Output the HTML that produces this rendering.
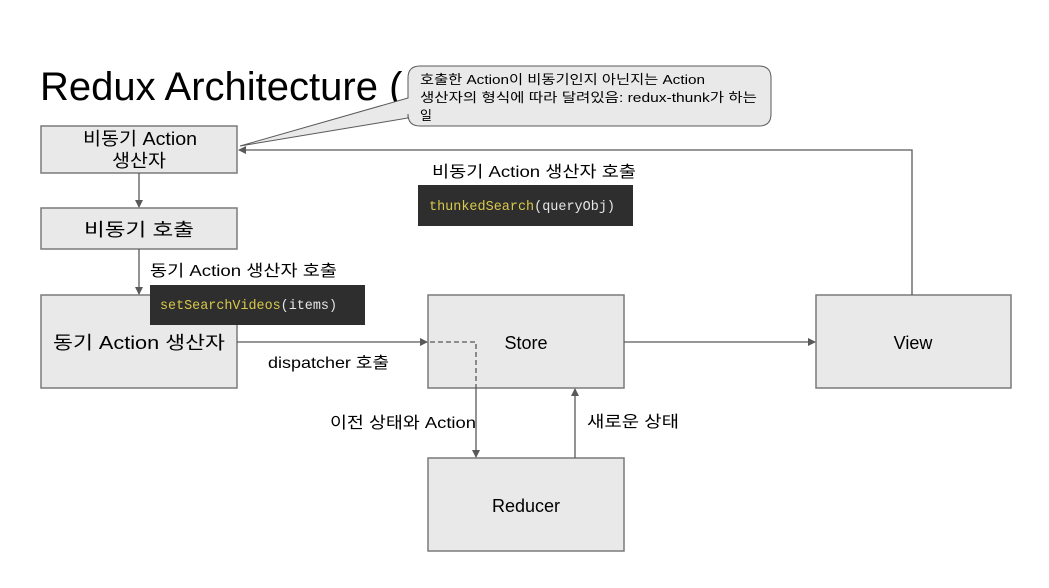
<!DOCTYPE html>
<html><head><meta charset="utf-8"><style>
body{margin:0;background:#fff;}
svg text{font-family:"Liberation Sans","Noto Sans CJK KR",sans-serif;}
.m{font-family:"Liberation Mono","DejaVu Sans Mono",monospace !important;}
</style></head><body>
<svg width="1049" height="583" viewBox="0 0 1049 583" xmlns="http://www.w3.org/2000/svg">
<defs><marker id="a" markerWidth="8" markerHeight="8" refX="7" refY="4" orient="auto" markerUnits="userSpaceOnUse"><path d="M0,0 L8,4 L0,8 z" fill="#595959"/></marker></defs>
<rect width="1049" height="583" fill="#fff"/>
<text x="40" y="100" font-size="40" fill="#000">Redux Architecture (</text>
<g fill="#e9e9e9" stroke="#7a7a7a" stroke-width="1.5">
<rect x="41" y="126" width="196" height="47"/>
<rect x="41" y="208" width="196" height="41"/>
<rect x="41" y="295" width="196" height="93"/>
<rect x="428" y="295" width="196" height="93"/>
<rect x="816" y="295" width="195" height="93"/>
<rect x="428" y="458" width="196" height="93"/>
</g>
<path d="M420,66 H759 Q771,66 771,78 V114 Q771,126 759,126 H420 Q408,126 408,114 V118 L240,146 L408,98 V78 Q408,66 420,66 Z" fill="#e9e9e9" stroke="#595959" stroke-width="1"/>
<g stroke="#595959" stroke-width="1.3" fill="none">
<line x1="139" y1="173" x2="139" y2="207" marker-end="url(#a)"/>
<line x1="139" y1="249" x2="139" y2="294" marker-end="url(#a)"/>
<line x1="237" y1="342" x2="427" y2="342" marker-end="url(#a)"/>
<line x1="624" y1="342" x2="815" y2="342" marker-end="url(#a)"/>
<polyline points="912,295 912,150 239,150" marker-end="url(#a)"/>
<line x1="476" y1="388" x2="476" y2="457" marker-end="url(#a)"/>
<line x1="575" y1="458" x2="575" y2="389" marker-end="url(#a)"/>
<polyline points="430,342 476,342 476,388" stroke-dasharray="5,3"/>
</g>
<rect x="418" y="185" width="215" height="41" fill="#2e2e2e"/>
<rect x="150" y="285" width="215" height="40" fill="#2e2e2e"/>
<text x="429" y="210" font-size="14" class="m" textLength="186" lengthAdjust="spacingAndGlyphs"><tspan fill="#d9c84a">thunkedSearch</tspan><tspan fill="#e6e6e6">(queryObj)</tspan></text>
<text x="160" y="309" font-size="14" class="m" textLength="177" lengthAdjust="spacingAndGlyphs"><tspan fill="#d9c84a">setSearchVideos</tspan><tspan fill="#e6e6e6">(items)</tspan></text>
<g font-size="18" fill="#000">
<text x="83" y="145" textLength="114" lengthAdjust="spacingAndGlyphs">비동기 Action</text>
<text x="112" y="167" textLength="54" lengthAdjust="spacingAndGlyphs">생산자</text>
<text x="84" y="236" textLength="110" lengthAdjust="spacingAndGlyphs">비동기 호출</text>
<text x="53" y="349" textLength="172" lengthAdjust="spacingAndGlyphs">동기 Action 생산자</text>
<text x="526" y="349" text-anchor="middle">Store</text>
<text x="913" y="349" text-anchor="middle">View</text>
<text x="526" y="512" text-anchor="middle">Reducer</text>
</g>
<g font-size="16" fill="#000">
<text x="432" y="177" textLength="204" lengthAdjust="spacingAndGlyphs">비동기 Action 생산자 호출</text>
<text x="150" y="276" textLength="187" lengthAdjust="spacingAndGlyphs">동기 Action 생산자 호출</text>
<text x="268" y="368" textLength="121" lengthAdjust="spacingAndGlyphs">dispatcher 호출</text>
<text x="330" y="428" textLength="146" lengthAdjust="spacingAndGlyphs">이전 상태와 Action</text>
<text x="587" y="427" textLength="92" lengthAdjust="spacingAndGlyphs">새로운 상태</text>
</g>
<g font-size="13" fill="#000">
<text x="420" y="84" textLength="285" lengthAdjust="spacingAndGlyphs">호출한 Action이 비동기인지 아닌지는 Action</text>
<text x="420" y="102" textLength="337" lengthAdjust="spacingAndGlyphs">생산자의 형식에 따라 달려있음: redux-thunk가 하는</text>
<text x="420" y="120">일</text>
</g>
</svg>
</body></html>
